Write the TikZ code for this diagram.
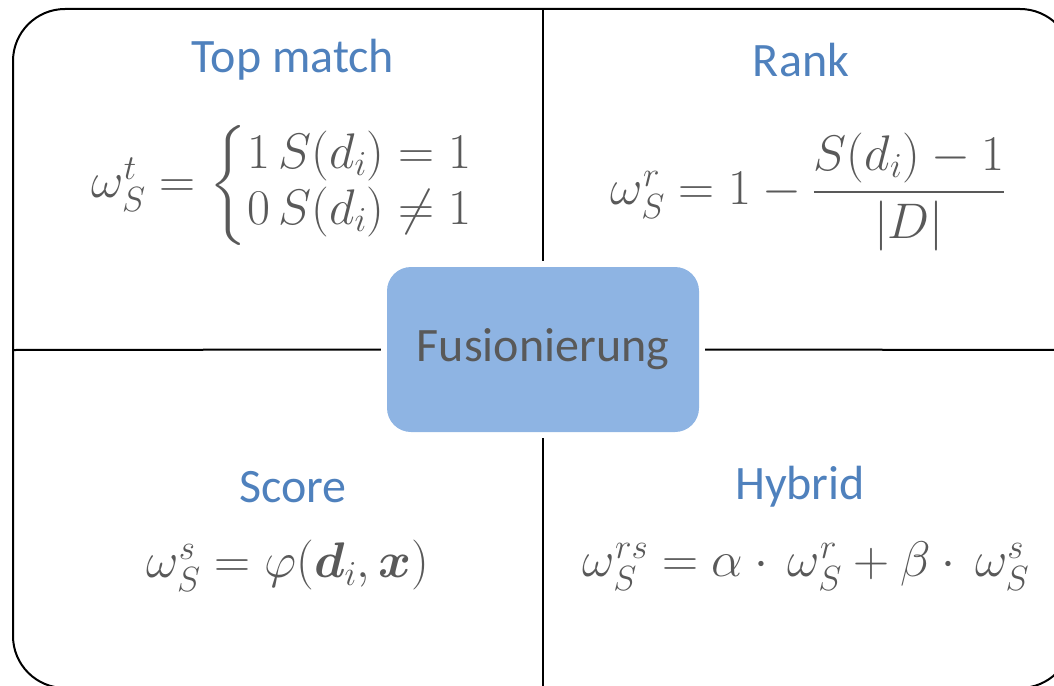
\RequirePackage{fix-cm}
\documentclass[tikz,border=0pt]{standalone}
\usepackage{amsmath}
\usepackage{amssymb}
\usepackage[no-math]{fontspec}
\setmainfont{Carlito}
\usetikzlibrary{positioning}
\definecolor{fusionblue}{RGB}{142, 180, 227}
\definecolor{titleblue}{RGB}{79, 129, 189}
\definecolor{textgray}{RGB}{89, 89, 89}

\begin{document}
\begin{tikzpicture}[
    x=1pt, y=-1pt,
    every node/.style={align=center, text=textgray},
    frame/.style={draw=black, line width=2pt, rounded corners=52pt},
    divider/.style={draw=black, line width=2pt, shorten <=6pt},
    fusionbox/.style={rectangle, fill=fusionblue, rounded corners=24pt, minimum width=312pt, minimum height=165pt, font=\fontsize{48}{56}\selectfont},
    title/.style={text=titleblue, font=\fontsize{48}{56}\selectfont},
    formula/.style={font=\fontsize{50}{56}\selectfont}
]
    \useasboundingbox (0,0) rectangle (1054,685);
    \clip (0,0) rectangle (1054,685);

    % Outer frame
    \draw[frame] (13,9) rectangle (1072,688);

    % Center box
    \node[fusionbox] (fusion) at (543,349.5) {Fusionierung};

    % Frame edges for the dividers
    \coordinate (ntop) at (543,9);
    \coordinate (nbottom) at (543,688);
    \coordinate (nleft) at (13,350);
    \coordinate (nright) at (1072,350);

    \draw[divider] (fusion.north) -- (ntop);
    \draw[divider] (fusion.south) -- (nbottom);
    \draw[divider] (fusion.west) -- (nleft);
    \draw[divider] (fusion.east) -- (nright);

    % Quadrant titles
    \node[title] (topmatch) at (293,60) {Top match};
    \node[title] (rank) at (801,60) {Rank};
    \node[title] (score) at (293,487) {Score};
    \node[title] (hybrid) at (800,487) {Hybrid};

    % Formulas
    \node[formula] (topmatch_f) at (282,185) {$\omega_S^t = \def\arraystretch{1}\left\{\begin{array}{@{}l@{}}1\,S(d_i)=1\\0\,S(d_i)\neq 1\end{array}\right.$};
    \node[formula] (rank_f) at (808,192) {$\omega_S^r = 1-\dfrac{S(d_i)-1}{|D|}$};
    \node[formula] (score_f) at (288,566) {$\omega_S^s = \varphi(\boldsymbol{d}_i,\boldsymbol{x})$};
    \node[formula] (hybrid_f) at (806,566) {$\omega_S^{rs} = \alpha\cdot\,\omega_S^r+\beta\cdot\,\omega_S^s$};

\end{tikzpicture}
\end{document}
